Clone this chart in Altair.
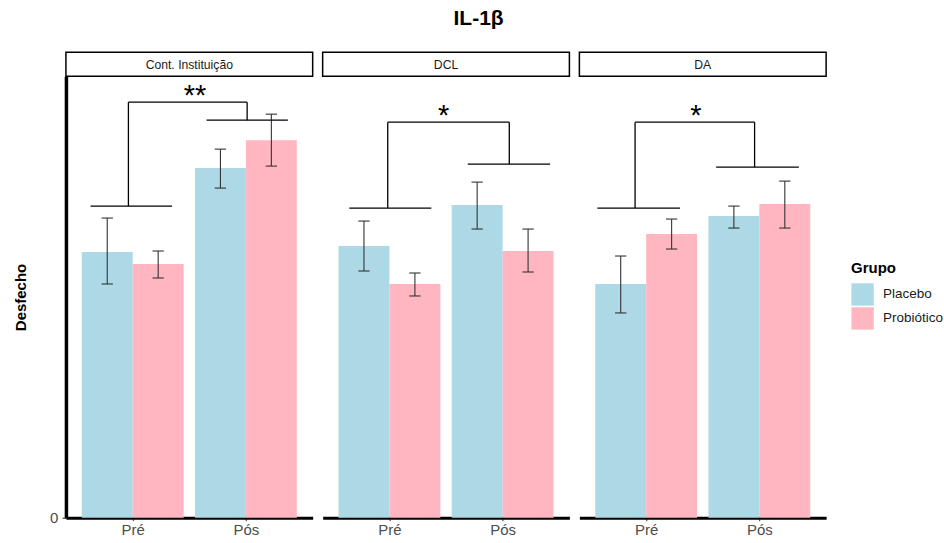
import json
import altair as alt
import pandas as pd

# ---------------- data ----------------
panels = ["Cont. Instituição", "DCL", "DA"]
tempos = ["Pré", "Pós"]
grupos = ["Placebo", "Probiótico"]
cores = ["#ADD8E6", "#FFB6C1"]

# means / error limits per panel, [Pré, Pós]
media_placebo = [[2.66, 3.50], [2.72, 3.13], [2.34, 3.02]]
inf_placebo = [[2.34, 3.30], [2.47, 2.89], [2.05, 2.90]]
sup_placebo = [[3.00, 3.69], [2.97, 3.36], [2.62, 3.12]]
media_probiotico = [[2.54, 3.78], [2.34, 2.67], [2.84, 3.14]]
inf_probiotico = [[2.40, 3.52], [2.22, 2.46], [2.69, 2.90]]
sup_probiotico = [[2.67, 4.04], [2.45, 2.89], [2.99, 3.37]]

# significance brackets (x in category units: Pré = 1, Pós = 2)
chave_pre_y = [3.12, 3.10, 3.10]
chave_pos_y = [3.98, 3.54, 3.51]
chave_topo_y = [4.16, 3.96, 3.96]
chave_pre_x = [(0.627, 1.348), (0.645, 1.370), (0.569, 1.299)]
chave_pos_x = [(1.652, 2.371), (1.692, 2.420), (1.618, 2.349)]
chave_esq_x = [0.962, 0.985, 0.902]
chave_dir_x = [2.011, 2.059, 1.958]
signif = ["**", "*", "*"]
signif_x = [1.55, 1.48, 1.44]

Y_MAX = 4.42
X_DOMAIN = [0.41, 2.59]
W, H = 247, 442
FONT = "Liberation Sans"

rows = []
for i, p in enumerate(panels):
    for j, t in enumerate(tempos):
        rows.append(dict(painel=p, tempo=t, grupo=grupos[0], media=media_placebo[i][j],
                         inf=inf_placebo[i][j], sup=sup_placebo[i][j]))
        rows.append(dict(painel=p, tempo=t, grupo=grupos[1], media=media_probiotico[i][j],
                         inf=inf_probiotico[i][j], sup=sup_probiotico[i][j]))
df = pd.DataFrame(rows)

seg_rows = []
for i, p in enumerate(panels):
    seg_rows += [
        dict(painel=p, sx=chave_pre_x[i][0], sx2=chave_pre_x[i][1], sy=chave_pre_y[i], sy2=chave_pre_y[i]),
        dict(painel=p, sx=chave_pos_x[i][0], sx2=chave_pos_x[i][1], sy=chave_pos_y[i], sy2=chave_pos_y[i]),
        dict(painel=p, sx=chave_esq_x[i], sx2=chave_dir_x[i], sy=chave_topo_y[i], sy2=chave_topo_y[i]),
        dict(painel=p, sx=chave_esq_x[i], sx2=chave_esq_x[i], sy=chave_pre_y[i], sy2=chave_topo_y[i]),
        dict(painel=p, sx=chave_dir_x[i], sx2=chave_dir_x[i], sy=chave_pos_y[i], sy2=chave_topo_y[i]),
    ]
seg_df = pd.DataFrame(seg_rows)
lab_df = pd.DataFrame(dict(painel=panels, texto=signif, lx=signif_x, ly=chave_topo_y))

label_expr = f"datum.value == 1 ? '{tempos[0]}' : '{tempos[1]}'"


def x_axis():
    return alt.Axis(values=[1, 2], labelExpr=label_expr, grid=False, domainColor="black",
                    domainWidth=3, tickColor="#333333", tickSize=3, tickWidth=1,
                    labelColor="#4D4D4D", labelFontSize=15, labelFont=FONT, labelPadding=2,
                    title=None)


def y_axis(first):
    if not first:
        return None
    return alt.Axis(values=[0], grid=False, domainColor="black", domainWidth=3.5,
                    tickColor="#333333", tickSize=4, tickWidth=1, labelColor="#4D4D4D",
                    labelFontSize=15, labelFont=FONT, labelPadding=4, title="Desfecho",
                    titleFont=FONT, titleFontSize=15, titleFontWeight="bold",
                    titleColor="black", titlePadding=21)


xs = alt.Scale(domain=X_DOMAIN, nice=False, zero=False)
ys = alt.Scale(domain=[0, Y_MAX], nice=False, zero=True)


def X(f, first):
    return alt.X(f"{f}:Q", scale=xs, axis=x_axis(), title=None)


def X2(f):
    return alt.X2(f"{f}:Q")


def Y(f, first):
    return alt.Y(f"{f}:Q", scale=ys, axis=y_axis(first), title=None)


def panel(i):
    p = panels[i]
    first = i == 0
    base = alt.Chart(df[df.painel == p]).transform_calculate(
        idx=f"indexof({json.dumps(tempos)}, datum.tempo) + 1",
        off=f"datum.grupo == '{grupos[0]}' ? -0.225 : 0.225",
    ).transform_calculate(
        xc="datum.idx + datum.off",
    ).transform_calculate(
        b1="datum.xc - 0.225", b2="datum.xc + 0.225",
        c1="datum.xc - 0.05", c2="datum.xc + 0.05",
    )
    bars = base.mark_bar().encode(
        x=X("b1", first), x2=X2("b2"), y=Y("media", first), y2=alt.datum(0),
        color=alt.Color("grupo:N", scale=alt.Scale(domain=grupos, range=cores),
                        legend=alt.Legend(title="Grupo", orient="none", legendX=786, legendY=209,
                                          titleFont=FONT, titleFontSize=15, titleFontWeight="bold",
                                          titleColor="black", titlePadding=7,
                                          labelFont=FONT, labelFontSize=13.5, labelColor="#1A1A1A",
                                          labelOffset=9, symbolType="square", symbolSize=500,
                                          symbolStrokeWidth=0, rowPadding=1)),
    )
    ev = base.mark_rule(color="#333333", strokeWidth=1.1).encode(
        x=X("xc", first), y=Y("inf", first), y2=alt.Y2("sup:Q"))
    cap_hi = base.mark_rule(color="#333333", strokeWidth=1.1).encode(
        x=X("c1", first), x2=X2("c2"), y=Y("sup", first))
    cap_lo = base.mark_rule(color="#333333", strokeWidth=1.1).encode(
        x=X("c1", first), x2=X2("c2"), y=Y("inf", first))
    brk = alt.Chart(seg_df[seg_df.painel == p]).mark_rule(color="black", strokeWidth=1.3).encode(
        x=X("sx", first), x2=X2("sx2"), y=Y("sy", first), y2=alt.Y2("sy2:Q"))
    star = alt.Chart(lab_df[lab_df.painel == p]).mark_text(
        font=FONT, fontSize=29, color="black", baseline="alphabetic", dy=3).encode(
        x=X("lx", first), y=Y("ly", first), text="texto:N")
    plot = alt.layer(bars, ev, cap_hi, cap_lo, brk, star).properties(width=W, height=H)

    strip = alt.Chart(pd.DataFrame(dict(rotulo=[p]))).mark_text(
        font=FONT, fontSize=12.2, color="#1A1A1A", baseline="middle", align="center").encode(
        text="rotulo:N", x=alt.value(W / 2), y=alt.value(12.5)).properties(
        width=W, height=24,
        view=alt.ViewBackground(stroke="black", strokeWidth=1.5, fill="white"))
    return alt.vconcat(strip, plot, spacing=0, bounds="flush")


chart = alt.hconcat(*[panel(i) for i in range(3)], spacing=8).properties(
    title=alt.TitleParams("IL-1β", font=FONT, fontSize=21, fontWeight="bold", color="black",
                          anchor="middle", offset=23),
    padding={"left": 13, "top": 7, "right": 0, "bottom": 0},
).configure_view(stroke="transparent").configure_axis(grid=False)

chart.save("out.html", embed_options={"renderer": "svg", "actions": False})
